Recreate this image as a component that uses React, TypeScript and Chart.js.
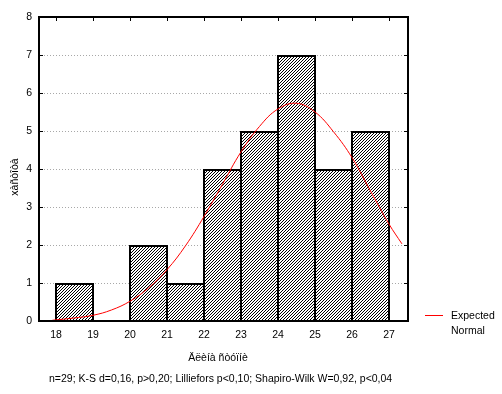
import React, { useEffect, useRef } from "react";
import { Chart, registerables } from "chart.js";

Chart.register(...registerables);

// ---- data ----
const binCenters = [18.5, 19.5, 20.5, 21.5, 22.5, 23.5, 24.5, 25.5, 26.5];
const frequencies: (number | null)[] = [1, null, 2, 1, 4, 5, 7, 4, 5];
const curveX = [17.9, 18.5, 19, 19.5, 20, 20.5, 21, 21.5, 22, 22.5, 23, 23.5, 24, 24.5, 25, 25.5, 26, 26.5, 27, 27.35];
const curveY = [0.02, 0.08, 0.15, 0.29, 0.52, 0.87, 1.35, 1.98, 2.75, 3.6, 4.45, 5.12, 5.58, 5.73, 5.5, 4.98, 4.3, 3.42, 2.55, 2.03];
const xTickValues = [18, 19, 20, 21, 22, 23, 24, 25, 26, 27];
const yTickValues = [0, 1, 2, 3, 4, 5, 6, 7, 8];
const gridValues = [1, 2, 3, 4, 5, 6, 7];
const xTitle = "Äëèíà ñòóïíè";
const yTitle = "xàñòîòà";
const legendLines = ["Expected", "Normal"];
const footnote = "n=29; K-S d=0,16, p>0,20; Lilliefors p<0,10; Shapiro-Wilk W=0,92, p<0,04";

const FONT = "'Liberation Sans', Arial, sans-serif";
const FS = 10.5;

function makeHatch(): CanvasPattern | string {
  const tile = document.createElement("canvas");
  tile.width = 3;
  tile.height = 3;
  const t = tile.getContext("2d");
  if (!t) return "#888";
  t.fillStyle = "#fff";
  t.fillRect(0, 0, 3, 3);
  t.fillStyle = "#000";
  t.fillRect(2, 0, 1, 1);
  t.fillRect(1, 1, 1, 1);
  t.fillRect(0, 2, 1, 1);
  const main = document.createElement("canvas").getContext("2d");
  const p = main ? main.createPattern(tile, "repeat") : null;
  return p || "#888";
}

const decorPlugin = {
  id: "decor",
  beforeDatasetsDraw(chart: any) {
    const ctx = chart.ctx as CanvasRenderingContext2D;
    const { left, right } = chart.chartArea;
    const ys = chart.scales.y;
    ctx.save();
    ctx.strokeStyle = "#a8a8a8";
    ctx.lineWidth = 1;
    ctx.setLineDash([1, 2]);
    ctx.beginPath();
    for (const v of gridValues) {
      const py = Math.round(ys.getPixelForValue(v)) + 0.5;
      ctx.moveTo(left + 5, py);
      ctx.lineTo(right - 5, py);
    }
    ctx.stroke();
    ctx.restore();
  },
  afterDraw(chart: any) {
    const ctx = chart.ctx as CanvasRenderingContext2D;
    const { left, right, top, bottom } = chart.chartArea;
    const xs = chart.scales.x;
    const ys = chart.scales.y;
    ctx.save();
    // frame
    ctx.strokeStyle = "#000";
    ctx.lineWidth = 2;
    ctx.strokeRect(left, top, right - left, bottom - top);
    // inward ticks
    ctx.lineWidth = 1;
    ctx.beginPath();
    for (const v of xTickValues) {
      const px = Math.round(xs.getPixelForValue(v)) + 0.5;
      ctx.moveTo(px, top);
      ctx.lineTo(px, top + 4);
    }
    for (const v of yTickValues) {
      const py = Math.round(ys.getPixelForValue(v)) + 0.5;
      ctx.moveTo(left, py);
      ctx.lineTo(left + 4, py);
      ctx.moveTo(right, py);
      ctx.lineTo(right - 4, py);
    }
    ctx.stroke();

    ctx.fillStyle = "#000";
    ctx.font = `${FS}px ${FONT}`;
    ctx.textBaseline = "middle";
    // y title
    ctx.save();
    ctx.translate(15, 177);
    ctx.rotate(-Math.PI / 2);
    ctx.textAlign = "center";
    ctx.fillText(yTitle, 0, 0);
    ctx.restore();
    // x title
    ctx.textAlign = "center";
    ctx.fillText(xTitle, 218, 358);
    // footnote
    ctx.textAlign = "left";
    ctx.fillText(footnote, 49, 379);
    // legend
    ctx.strokeStyle = "#ff0000";
    ctx.lineWidth = 1;
    ctx.beginPath();
    ctx.moveTo(425, 315.5);
    ctx.lineTo(443, 315.5);
    ctx.stroke();
    ctx.fillStyle = "#000";
    ctx.fillText(legendLines[0], 451, 316);
    ctx.fillText(legendLines[1], 451, 331);
    ctx.restore();
  },
};

export default function App() {
  const ref = useRef<HTMLCanvasElement | null>(null);

  useEffect(() => {
    if (!ref.current) return;
    const hatch = makeHatch();
    const chart = new Chart(ref.current, {
      type: "bar",
      data: {
        datasets: [
          {
            type: "line",
            label: "Expected Normal",
            data: curveX.map((x, i) => ({ x, y: curveY[i] })),
            borderColor: "#ff0000",
            borderWidth: 1,
            pointRadius: 0,
            tension: 0.4,
            fill: false,
            order: 0,
          } as any,
          {
            type: "bar",
            label: "freq",
            data: binCenters.map((x, i) => ({ x, y: frequencies[i] })),
            backgroundColor: hatch as any,
            borderColor: "#000",
            borderWidth: 2,
            borderSkipped: "start",
            barPercentage: 39 / 37,
            categoryPercentage: 1,
            order: 1,
          } as any,
        ],
      },
      options: {
        responsive: false,
        animation: false,
        layout: { padding: { left: 0, top: 17, right: 94, bottom: 0 } },
        plugins: {
          legend: { display: false },
          tooltip: { enabled: false },
          title: { display: false },
        },
        scales: {
          x: {
            type: "linear",
            offset: false,
            min: 18 - 17 / 37,
            max: 27 + 19 / 37,
            afterBuildTicks: (s: any) => {
              s.ticks = xTickValues.map((v) => ({ value: v }));
            },
            afterFit: (s: any) => {
              s.height = 73;
            },
            grid: { display: false, drawTicks: false, offset: false },
            border: { display: false },
            ticks: {
              color: "#000",
              font: { family: FONT, size: FS },
              padding: 8,
              maxRotation: 0,
              autoSkip: false,
              callback: (v: any) => String(v),
            },
          },
          y: {
            type: "linear",
            min: 0,
            max: 8,
            afterBuildTicks: (s: any) => {
              s.ticks = yTickValues.map((v) => ({ value: v }));
            },
            afterFit: (s: any) => {
              s.width = 39;
            },
            grid: { display: false, drawTicks: false },
            border: { display: false },
            ticks: {
              color: "#000",
              font: { family: FONT, size: FS },
              padding: 7,
              autoSkip: false,
              callback: (v: any) => String(v),
            },
          },
        },
      },
      plugins: [decorPlugin],
    });
    return () => chart.destroy();
  }, []);

  return (
    <div style={{ position: "fixed", left: 0, top: 0, width: 502, height: 394, background: "#fff" }}>
      <canvas ref={ref} width={502} height={394} style={{ display: "block" }} />
    </div>
  );
}
